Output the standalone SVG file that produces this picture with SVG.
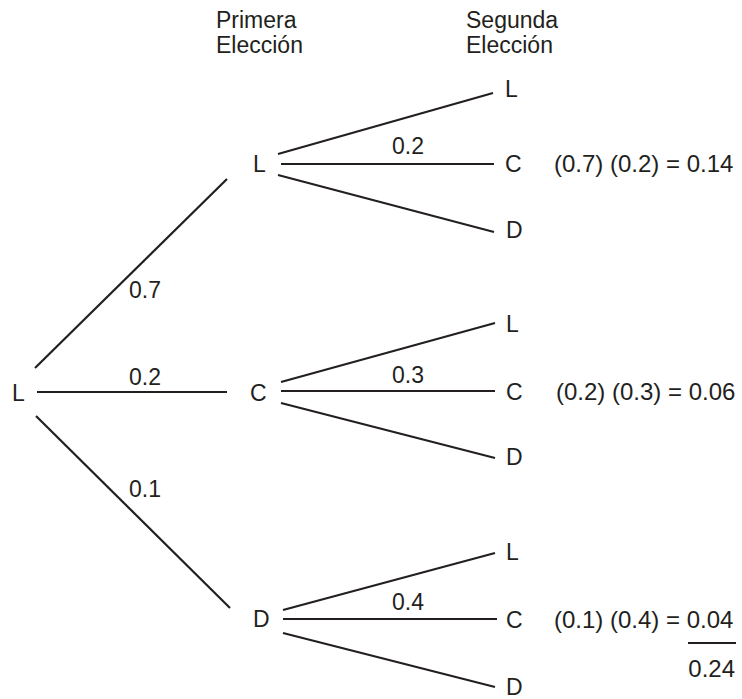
<svg xmlns="http://www.w3.org/2000/svg" width="742" height="699" viewBox="0 0 742 699">
<style>
text{font-family:"Liberation Sans",Arial,sans-serif;font-size:23px;fill:#231f20}
.r{font-size:24px}
.c line{stroke:#231f20;stroke-width:2.2;stroke-linecap:butt}
</style>
<rect width="742" height="699" fill="#fff"/>
<g id="headers">
<text x="216" y="28">Primera</text>
<text x="216" y="53">Elección</text>
<text x="466" y="28">Segunda</text>
<text x="466" y="53">Elección</text>
</g>
<g class="c" id="connectors">
<line x1="35" y1="368" x2="227" y2="179"/>
<line x1="37" y1="392" x2="227" y2="392"/>
<line x1="36" y1="416" x2="230" y2="608"/>
<line x1="278" y1="154" x2="493" y2="93"/>
<line x1="281" y1="164" x2="494" y2="164"/>
<line x1="278" y1="175" x2="494" y2="232"/>
<line x1="281" y1="382" x2="495" y2="323"/>
<line x1="281" y1="391" x2="495" y2="391"/>
<line x1="281" y1="403" x2="495" y2="458"/>
<line x1="283" y1="610" x2="495" y2="553"/>
<line x1="283" y1="619" x2="497" y2="619"/>
<line x1="283" y1="633" x2="495" y2="687"/>
<line x1="688" y1="643" x2="736" y2="643"/>
</g>
<g id="edge-labels">
<text x="129" y="298">0.7</text>
<text x="129" y="385">0.2</text>
<text x="129" y="497">0.1</text>
<text x="392" y="154">0.2</text>
<text x="392" y="383">0.3</text>
<text x="392" y="610">0.4</text>
</g>
<g id="root"><text x="12" y="401">L</text></g>
<g id="n1-L"><text x="253" y="172">L</text></g>
<g id="n1-C"><text x="250" y="401">C</text></g>
<g id="n1-D"><text x="253" y="627">D</text></g>
<g id="n2-LL"><text x="505" y="97">L</text></g>
<g id="n2-LC"><text x="505" y="172">C</text></g>
<g id="n2-LD"><text x="506" y="238">D</text></g>
<g id="n2-CL"><text x="506" y="332">L</text></g>
<g id="n2-CC"><text x="506" y="400">C</text></g>
<g id="n2-CD"><text x="506" y="465">D</text></g>
<g id="n2-DL"><text x="506" y="560">L</text></g>
<g id="n2-DC"><text x="506" y="628">C</text></g>
<g id="n2-DD"><text x="506" y="695">D</text></g>
<g id="results">
<text class="r" x="554" y="172">(0.7) (0.2) = 0.14</text>
<text class="r" x="556" y="400">(0.2) (0.3) = 0.06</text>
<text class="r" x="554" y="628">(0.1) (0.4) = 0.04</text>
<text class="r" x="735" y="677" text-anchor="end">0.24</text>
</g>
</svg>
